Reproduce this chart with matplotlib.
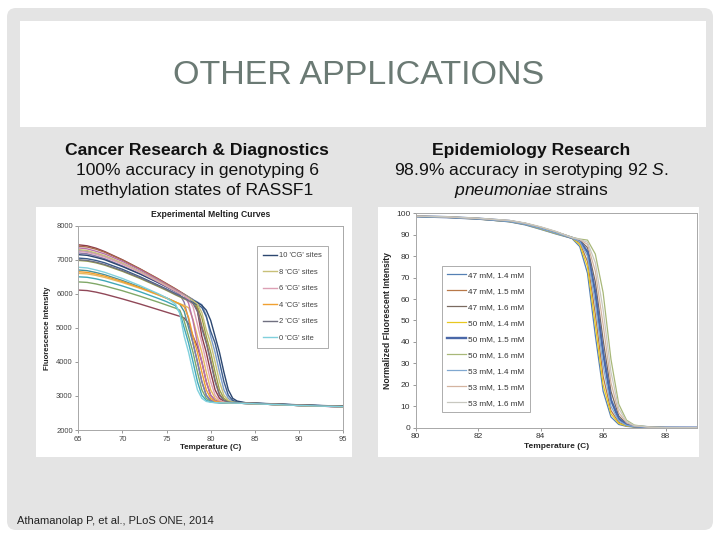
import matplotlib.pyplot as plt
from matplotlib.patches import FancyBboxPatch, Rectangle

plt.rcParams['font.family'] = ['Liberation Sans', 'DejaVu Sans']
plt.rcParams['mathtext.fontset'] = 'custom'
plt.rcParams['mathtext.rm'] = 'Liberation Sans'
plt.rcParams['mathtext.it'] = 'Liberation Sans:italic'
plt.rcParams['mathtext.bf'] = 'Liberation Sans:bold'

# ---- left chart: RASSF1 melting curves ----
temp_left = [65, 66, 67, 68, 70, 72, 74, 75, 76, 76.5, 77, 77.5, 78, 78.5, 79,
             79.5, 80, 80.5, 81, 81.5, 82, 82.5, 83, 84, 86, 90, 95]

navy_a = [7150, 7130, 7070, 7000, 6800, 6580, 6340, 6210, 6080, 6015, 5950, 5880, 5810, 5740, 5660,
          5520, 5220, 4750, 4280, 3700, 3180, 2930, 2850, 2800, 2780, 2740, 2700]
navy_b = [7050, 7030, 6980, 6910, 6720, 6500, 6260, 6140, 6010, 5945, 5880, 5820, 5750, 5680, 5600,
          5330, 4900, 4550, 4000, 3420, 3020, 2870, 2820, 2795, 2775, 2735, 2695]
olive_a = [7300, 7270, 7200, 7120, 6900, 6650, 6380, 6240, 6090, 6020, 5950, 5880, 5800, 5700, 5450,
           4950, 4550, 4000, 3420, 3020, 2870, 2820, 2805, 2790, 2770, 2730, 2690]
olive_b = [6980, 6960, 6910, 6840, 6660, 6450, 6220, 6100, 5970, 5910, 5850, 5790, 5720, 5620, 5300,
           4750, 4280, 3700, 3180, 2930, 2840, 2815, 2805, 2790, 2770, 2730, 2690]
pink_a = [7250, 7220, 7160, 7080, 6870, 6630, 6360, 6220, 6080, 6010, 5940, 5850, 5620, 5100, 4550,
          4000, 3420, 3020, 2870, 2820, 2805, 2800, 2795, 2785, 2765, 2725, 2685]
pink_b = [7350, 7320, 7250, 7170, 6950, 6700, 6420, 6270, 6120, 6050, 5960, 5720, 5200, 4550, 4000,
          3420, 3020, 2870, 2820, 2805, 2800, 2795, 2790, 2780, 2760, 2720, 2680]
orange_a = [6650, 6630, 6580, 6520, 6360, 6180, 5980, 5870, 5760, 5700, 5620, 5300, 4750, 4280, 3700,
            3180, 2930, 2840, 2815, 2805, 2800, 2795, 2790, 2780, 2760, 2720, 2685]
orange_b = [6600, 6585, 6540, 6480, 6330, 6160, 5970, 5870, 5760, 5710, 5660, 5590, 5250, 4750, 4280,
            3700, 3180, 2930, 2840, 2815, 2805, 2800, 2795, 2785, 2765, 2725, 2690]
gray_a = [7000, 6980, 6930, 6860, 6680, 6470, 6240, 6120, 5990, 5930, 5870, 5800, 5720, 5480, 4980,
          4550, 4000, 3420, 3020, 2870, 2820, 2805, 2800, 2790, 2770, 2730, 2690]
purple_a = [7200, 7175, 7110, 7030, 6820, 6590, 6330, 6200, 6060, 5980, 5750, 5250, 4550, 4000, 3420,
            3020, 2870, 2820, 2805, 2800, 2795, 2792, 2790, 2780, 2760, 2720, 2680]
cyan_a = [6780, 6760, 6700, 6630, 6450, 6240, 6010, 5880, 5700, 5420, 4750, 4280, 3700, 3180, 2930,
          2840, 2815, 2805, 2800, 2798, 2795, 2792, 2790, 2780, 2760, 2720, 2685]
cyan_b = [6500, 6485, 6440, 6380, 6230, 6060, 5870, 5770, 5650, 5450, 5000, 4550, 4000, 3420, 3020,
          2870, 2820, 2805, 2800, 2797, 2795, 2792, 2790, 2780, 2760, 2720, 2685]
red_a = [7440, 7410, 7340, 7240, 7000, 6730, 6440, 6290, 6140, 6060, 5980, 5900, 5810, 5500, 4750,
         4280, 3700, 3180, 2930, 2840, 2815, 2805, 2800, 2790, 2770, 2730, 2690]
maroon_a = [6110, 6095, 6050, 5990, 5850, 5700, 5540, 5460, 5380, 5340, 5290, 5120, 4750, 4450, 4000,
            3420, 3020, 2870, 2820, 2805, 2800, 2795, 2790, 2780, 2760, 2720, 2680]
lblue_a = [7270, 7245, 7180, 7100, 6890, 6650, 6390, 6250, 6110, 6040, 5970, 5900, 5830, 5760, 5680,
           5370, 4750, 4280, 3700, 3180, 2930, 2840, 2815, 2795, 2775, 2735, 2695]
green_a = [6350, 6335, 6290, 6230, 6090, 5930, 5760, 5670, 5580, 5520, 5200, 4750, 4280, 3700, 3180,
           2930, 2840, 2815, 2805, 2800, 2797, 2794, 2790, 2780, 2760, 2720, 2685]
brown_a = [7400, 7375, 7310, 7220, 6990, 6730, 6450, 6300, 6150, 6070, 5990, 5910, 5830, 5580, 5050,
           4600, 4050, 3470, 3050, 2880, 2825, 2808, 2800, 2790, 2770, 2730, 2690]
teal_a = [6700, 6680, 6625, 6560, 6390, 6200, 5990, 5880, 5760, 5690, 5480, 5000, 4550, 4000, 3420,
          3020, 2870, 2820, 2805, 2800, 2796, 2793, 2790, 2780, 2760, 2720, 2685]

left_curves = [
    (red_a, '#8c3a48', None), (brown_a, '#a86a4a', None), (lblue_a, '#7c9cc8', None),
    (maroon_a, '#904858', None), (green_a, '#80a868', None), (teal_a, '#4a9098', None),
    (purple_a, '#8a78a8', None), (olive_b, '#98a048', None), (navy_b, '#3a5a8a', None),
    (orange_b, '#e8b860', None), (pink_b, '#b870a8', None), (cyan_b, '#40a8b8', None),
    (navy_a, '#2c4770', "10 'CG' sites"), (olive_a, '#c8c078', "8 'CG' sites"),
    (pink_a, '#dca0b4', "6 'CG' sites"), (orange_a, '#f0a030', "4 'CG' sites"),
    (gray_a, '#707080', "2 'CG' sites"), (cyan_a, '#80d0dc', "0 'CG' site"),
]
legend_left = ["10 'CG' sites", "8 'CG' sites", "6 'CG' sites",
               "4 'CG' sites", "2 'CG' sites", "0 'CG' site"]

# ---- right chart: S. pneumoniae normalized melting curves ----
temp_right = [80, 81, 82, 83, 83.5, 84, 84.5, 85, 85.25, 85.5, 85.75, 86, 86.25,
              86.5, 86.75, 87, 87.5, 88, 89]

c47_14 = [98.6, 98.2, 97.4, 96.0, 94.6, 92.5, 90.3, 88.3, 84.5, 72, 43, 17, 5, 1.5, 0.6, 0.3, 0.1, 0, 0]
c50_14 = [98.5, 98.1, 97.3, 96.1, 94.8, 92.7, 90.5, 88.4, 85.5, 75, 48, 20, 6.5, 2, 0.8, 0.35, 0.1, 0, 0]
c47_15 = [98.6, 98.2, 97.5, 96.3, 95.0, 93.0, 90.8, 88.5, 86.3, 77.5, 53, 24, 8, 2.5, 0.9, 0.4, 0.12, 0, 0]
c53_14 = [98.5, 98.1, 97.4, 96.2, 94.9, 92.9, 90.7, 88.5, 86.8, 80, 58, 29, 10, 3.2, 1.1, 0.5, 0.15, 0.02, 0]
c50_15 = [98.6, 98.2, 97.5, 96.4, 95.1, 93.2, 91.0, 88.6, 87.2, 82, 63, 35, 13, 4.2, 1.4, 0.6, 0.18, 0.03, 0]
c47_16 = [98.6, 98.3, 97.6, 96.5, 95.3, 93.4, 91.2, 88.6, 87.5, 84, 68, 41, 17, 5.5, 1.8, 0.7, 0.2, 0.03, 0]
c53_15 = [98.7, 98.3, 97.6, 96.6, 95.4, 93.6, 91.4, 88.7, 87.7, 85.5, 73, 48, 21, 7, 2.3, 0.85, 0.22, 0.04, 0]
c53_16 = [98.7, 98.4, 97.7, 96.7, 95.5, 93.7, 91.5, 88.7, 87.9, 86.5, 77, 55, 26, 9, 2.9, 1.0, 0.25, 0.04, 0]
c50_16 = [98.6, 98.3, 97.6, 96.5, 95.3, 93.5, 91.3, 88.8, 88.0, 87.5, 81, 63, 32, 11, 3.5, 1.2, 0.3, 0.05, 0]

right_curves = [
    ("47 mM, 1.4 mM", c47_14, '#5580b4', 0.9),
    ("47 mM, 1.5 mM", c47_15, '#b87848', 0.9),
    ("47 mM, 1.6 mM", c47_16, '#7a6a60', 0.9),
    ("50 mM, 1.4 mM", c50_14, '#e8c820', 0.9),
    ("50 mM, 1.5 mM", c50_15, '#4a68a8', 1.7),
    ("50 mM, 1.6 mM", c50_16, '#a8b878', 0.9),
    ("53 mM, 1.4 mM", c53_14, '#80a8d0', 0.9),
    ("53 mM, 1.5 mM", c53_15, '#d4b4a0', 0.9),
    ("53 mM, 1.6 mM", c53_16, '#c8c8c0', 0.9),
]

# ---- slide ----
fig = plt.figure(figsize=(7.2, 5.4), dpi=100)
bg = fig.add_axes([0, 0, 1, 1])
bg.set_xlim(0, 720)
bg.set_ylim(540, 0)
bg.axis('off')
bg.add_patch(FancyBboxPatch((7, 8), 706, 522, boxstyle="round,pad=0,rounding_size=9",
                            fc='#e4e4e4', ec='none'))
bg.add_patch(Rectangle((20, 21), 686, 106, fc='white', ec='none'))
bg.add_patch(Rectangle((36, 207), 316, 250, fc='white', ec='none'))
bg.add_patch(Rectangle((378, 207), 321, 250, fc='white', ec='none'))

bg.text(359, 75, "OTHER APPLICATIONS", ha='center', va='center', fontsize=24.5, color='#6b7a74')
bg.text(197, 150, "Cancer Research & Diagnostics", ha='center', va='center',
        fontsize=12.6, fontweight='bold', color='#111111')
bg.text(197, 171, "100% accuracy in genotyping 6", ha='center', va='center', fontsize=12.6, color='#111111')
bg.text(197, 191, "methylation states of RASSF1", ha='center', va='center', fontsize=12.6, color='#111111')
bg.text(531, 150, "Epidemiology Research", ha='center', va='center',
        fontsize=12.6, fontweight='bold', color='#111111')
bg.text(531, 171, r"98.9% accuracy in serotyping 92 $\mathit{S.}$", ha='center', va='center',
        fontsize=12.6, color='#111111')
bg.text(531, 191, r"$\mathit{pneumoniae}$ strains", ha='center', va='center', fontsize=12.6, color='#111111')
bg.text(17, 521, "Athamanolap P, et al., PLoS ONE, 2014", ha='left', va='center', fontsize=8, color='#222222')

# ---- left chart ----
ax1 = fig.add_axes([0.1088, 0.2037, 0.3676, 0.3783])
for ys, col, lab in left_curves:
    ax1.plot(temp_left, ys, color=col, lw=1.0, label=lab)
ax1.set_xlim(65, 95)
ax1.set_ylim(2000, 8000)
ax1.set_xticks([65, 70, 75, 80, 85, 90, 95])
ax1.set_yticks([2000, 3000, 4000, 5000, 6000, 7000, 8000])
ax1.set_title("Experimental Melting Curves", fontsize=6.2, fontweight='bold', pad=6, color='#222222')
ax1.set_xlabel("Temperature (C)", fontsize=5.8, fontweight='bold', labelpad=1, color='#222222')
ax1.set_ylabel("Fluorescence Intensity", fontsize=5.6, fontweight='bold', labelpad=4, color='#222222')
ax1.tick_params(labelsize=5.5, length=2, width=0.6, color='#888888', labelcolor='#444444', pad=2)
for s in ax1.spines.values():
    s.set_color('#a8a8a8')
    s.set_linewidth(0.7)
handles, labels = ax1.get_legend_handles_labels()
order = [labels.index(t) for t in legend_left]
leg1 = ax1.legend([handles[i] for i in order], legend_left, loc='upper right',
                  bbox_to_anchor=(0.958, 0.92), fontsize=5.5, labelspacing=1.2,
                  handlelength=1.8, handletextpad=0.3, borderpad=0.8, fancybox=False,
                  framealpha=1, edgecolor='#a0a0a0')
leg1.get_frame().set_linewidth(0.6)
for t in leg1.get_texts():
    t.set_color('#444444')

# ---- right chart ----
ax2 = fig.add_axes([0.5774, 0.208, 0.3904, 0.397])
for lab, ys, col, lw in right_curves:
    ax2.plot(temp_right, ys, color=col, lw=lw, label=lab)
ax2.set_xlim(80, 89)
ax2.set_ylim(0, 100)
ax2.set_xticks([80, 82, 84, 86, 88])
ax2.set_yticks(range(0, 101, 10))
ax2.set_xlabel("Temperature (C)", fontsize=6, fontweight='bold', labelpad=2, color='#222222')
ax2.set_ylabel("Normalized Fluorescent Intensity", fontsize=6.2, fontweight='bold',
               labelpad=3, color='#222222')
ax2.tick_params(labelsize=6, length=2, width=0.6, color='#888888', labelcolor='#333333', pad=2)
for s in ax2.spines.values():
    s.set_color('#a8a8a8')
    s.set_linewidth(0.7)
leg2 = ax2.legend(loc='upper left', bbox_to_anchor=(0.078, 0.774), fontsize=5.9,
                  labelspacing=1.0, handlelength=2.2, handletextpad=0.3, borderpad=0.7,
                  fancybox=False, framealpha=1, edgecolor='#a0a0a0')
leg2.get_frame().set_linewidth(0.6)
for t in leg2.get_texts():
    t.set_color('#333333')

fig.savefig("out.png", dpi=100)
